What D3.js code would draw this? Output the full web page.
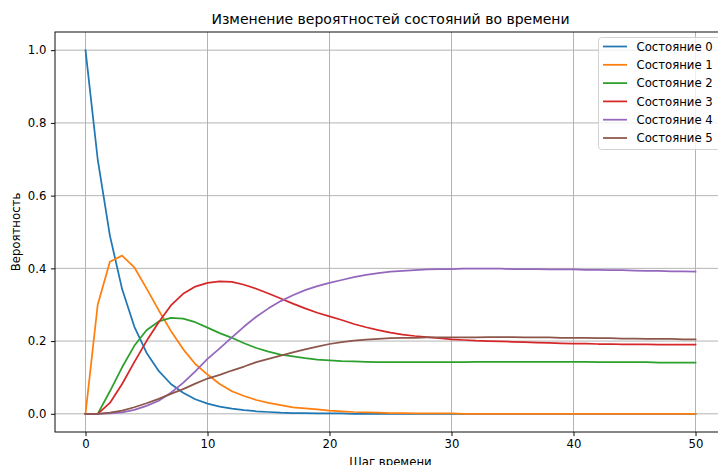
<!DOCTYPE html>
<html>
<head>
    <meta charset="utf-8">
    <title>Изменение вероятностей состояний во времени</title>
    <style>
        body {
            margin: 0;
            background: #fff;
        }

        svg {
            display: block;
            font-family: "DejaVu Sans", sans-serif;
        }

        .axis text {
            font-size: 11.7px;
            fill: #000;
        }

        .axis line {
            stroke: #000;
            stroke-width: 0.95;
        }

        .grid line {
            stroke: #b0b0b0;
            stroke-width: 0.95;
        }
    </style>
    <script src="https://d3js.org/d3.v7.min.js"></script>
</head>
<body>

<script>
  // time steps 0..50, probabilities
  var steps = d3.range(0, 51);
  var stateNames = ["Состояние 0", "Состояние 1", "Состояние 2", "Состояние 3", "Состояние 4", "Состояние 5"];
  var colors = ["#1f77b4", "#ff7f0e", "#2ca02c", "#d62728", "#9467bd", "#8c564b"];
  var xTicks = [0, 10, 20, 30, 40, 50];
  var yTicks = [0, 0.2, 0.4, 0.6, 0.8, 1.0];

  var state0 = [1.0, 0.70, 0.49, 0.343, 0.24, 0.168, 0.118, 0.082, 0.058, 0.040,
    0.028, 0.020, 0.014, 0.010, 0.007, 0.005, 0.003, 0.002, 0.002, 0.001,
    0.001, 0.001, 0, 0, 0, 0, 0, 0, 0, 0,
    0, 0, 0, 0, 0, 0, 0, 0, 0, 0,
    0, 0, 0, 0, 0, 0, 0, 0, 0, 0, 0];
  var state1 = [0, 0.30, 0.418, 0.435, 0.403, 0.345, 0.285, 0.228, 0.178, 0.137,
    0.108, 0.082, 0.062, 0.049, 0.038, 0.030, 0.024, 0.018, 0.015, 0.012,
    0.009, 0.007, 0.005, 0.004, 0.003, 0.002, 0.002, 0.001, 0.001, 0.001,
    0.001, 0, 0, 0, 0, 0, 0, 0, 0, 0,
    0, 0, 0, 0, 0, 0, 0, 0, 0, 0, 0];
  var state2 = [0, 0, 0.062, 0.128, 0.187, 0.23, 0.254, 0.264, 0.262, 0.252,
    0.237, 0.222, 0.209, 0.194, 0.181, 0.171, 0.163, 0.158, 0.153, 0.149,
    0.147, 0.145, 0.144, 0.143, 0.142, 0.142, 0.142, 0.142, 0.142, 0.142,
    0.142, 0.142, 0.143, 0.143, 0.143, 0.143, 0.143, 0.143, 0.143, 0.143,
    0.143, 0.143, 0.142, 0.142, 0.142, 0.142, 0.142, 0.141, 0.141, 0.141, 0.141];
  var state3 = [0, 0, 0.03, 0.082, 0.142, 0.2, 0.252, 0.298, 0.33, 0.35,
    0.36, 0.364, 0.363, 0.355, 0.344, 0.331, 0.317, 0.303, 0.29, 0.278,
    0.268, 0.258, 0.247, 0.238, 0.23, 0.223, 0.218, 0.214, 0.211, 0.208,
    0.205, 0.203, 0.201, 0.2, 0.199, 0.198, 0.197, 0.196, 0.195, 0.194,
    0.193, 0.193, 0.192, 0.192, 0.191, 0.191, 0.191, 0.19, 0.19, 0.19, 0.19];
  var state4 = [0, 0, 0.001, 0.004, 0.011, 0.022, 0.036, 0.058, 0.085, 0.117,
    0.151, 0.18, 0.21, 0.24, 0.267, 0.29, 0.31, 0.326, 0.34, 0.351,
    0.36, 0.368, 0.376, 0.382, 0.387, 0.391, 0.393, 0.395, 0.397, 0.398,
    0.398, 0.399, 0.399, 0.399, 0.399, 0.398, 0.398, 0.398, 0.397, 0.397,
    0.397, 0.396, 0.396, 0.395, 0.395, 0.394, 0.393, 0.393, 0.392, 0.392, 0.391];
  var state5 = [0, 0, 0.003, 0.009, 0.018, 0.029, 0.041, 0.055, 0.068, 0.083,
    0.097, 0.107, 0.119, 0.13, 0.142, 0.151, 0.16, 0.169, 0.177, 0.185,
    0.192, 0.197, 0.201, 0.204, 0.206, 0.208, 0.209, 0.209, 0.21, 0.21,
    0.21, 0.21, 0.21, 0.211, 0.211, 0.211, 0.21, 0.21, 0.21, 0.209,
    0.209, 0.209, 0.208, 0.208, 0.207, 0.207, 0.206, 0.206, 0.206, 0.205, 0.205];

  var series = [state0, state1, state2, state3, state4, state5];

  var W = 718, H = 465;
  // plot box; right edge sits just outside the picture
  var box = {left: 55, right: 726, top: 32, bottom: 432};

  var svg = d3.select("body")
              .append("svg")
              .attr("width", W)
              .attr("height", H);

  svg.append("rect")
     .attr("width", W)
     .attr("height", H)
     .attr("fill", "#fff");

  var x = d3.scaleLinear()
            .domain([-2.5, 52.5])
            .range([box.left, box.right]);

  var y = d3.scaleLinear()
            .domain([-0.05, 1.05])
            .range([box.bottom, box.top]);

  svg.append("clipPath")
     .attr("id", "plotclip")
     .append("rect")
     .attr("x", box.left)
     .attr("y", box.top)
     .attr("width", box.right - box.left)
     .attr("height", box.bottom - box.top);

  // grid
  var grid = svg.append("g").attr("class", "grid");
  grid.selectAll(".gx")
      .data(xTicks)
      .enter()
      .append("line")
      .attr("x1", function (d) { return x(d); })
      .attr("x2", function (d) { return x(d); })
      .attr("y1", box.top)
      .attr("y2", box.bottom);
  grid.selectAll(".gy")
      .data(yTicks)
      .enter()
      .append("line")
      .attr("x1", box.left)
      .attr("x2", box.right)
      .attr("y1", function (d) { return y(d); })
      .attr("y2", function (d) { return y(d); });

  // lines
  var line = d3.line()
               .x(function (d, i) { return x(steps[i]); })
               .y(function (d) { return y(d); });

  svg.append("g")
     .attr("clip-path", "url(#plotclip)")
     .selectAll("path")
     .data(series)
     .enter()
     .append("path")
     .attr("d", line)
     .attr("fill", "none")
     .attr("stroke", function (d, i) { return colors[i]; })
     .attr("stroke-width", 1.75)
     .attr("stroke-linejoin", "round")
     .attr("stroke-linecap", "square");

  // spines
  svg.append("rect")
     .attr("x", box.left)
     .attr("y", box.top)
     .attr("width", box.right - box.left)
     .attr("height", box.bottom - box.top)
     .attr("fill", "none")
     .attr("stroke", "#000")
     .attr("stroke-width", 0.95);

  // axes
  var gx = svg.append("g")
              .attr("class", "axis")
              .attr("transform", "translate(0," + box.bottom + ")")
              .call(d3.axisBottom(x)
                      .tickValues(xTicks)
                      .tickFormat(d3.format("d"))
                      .tickSize(4.1)
                      .tickPadding(3.8));
  gx.select(".domain").remove();
  gx.selectAll("text").attr("font-family", null);

  var gy = svg.append("g")
              .attr("class", "axis")
              .attr("transform", "translate(" + box.left + ",0)")
              .call(d3.axisLeft(y)
                      .tickValues(yTicks)
                      .tickFormat(d3.format(".1f"))
                      .tickSize(4.1)
                      .tickPadding(4.5));
  gy.select(".domain").remove();

  svg.selectAll(".axis").attr("font-family", null).attr("font-size", null);

  // title and labels
  svg.append("text")
     .attr("x", (box.left + box.right) / 2)
     .attr("y", 24)
     .attr("text-anchor", "middle")
     .attr("font-size", "14px")
     .text("Изменение вероятностей состояний во времени");

  svg.append("text")
     .attr("x", (box.left + box.right) / 2)
     .attr("y", 466)
     .attr("text-anchor", "middle")
     .attr("font-size", "11.7px")
     .text("Шаг времени");

  svg.append("text")
     .attr("transform", "translate(20," + ((box.top + box.bottom) / 2) + ") rotate(-90)")
     .attr("text-anchor", "middle")
     .attr("font-size", "11.7px")
     .text("Вероятность");

  // legend
  var lg = svg.append("g")
              .attr("transform", "translate(598,37)");
  lg.append("rect")
    .attr("x", 0.5)
    .attr("y", 0.5)
    .attr("width", 122)
    .attr("height", 112)
    .attr("rx", 3)
    .attr("fill", "#fff")
    .attr("fill-opacity", 0.8)
    .attr("stroke", "#d0d0d0")
    .attr("stroke-width", 0.95);

  var item = lg.selectAll(".item")
               .data(stateNames)
               .enter()
               .append("g")
               .attr("class", "item")
               .attr("transform", function (d, i) {
                 return "translate(0," + (9.5 + i * 18.3) + ")";
               });
  item.append("line")
      .attr("x1", 5)
      .attr("x2", 29)
      .attr("stroke", function (d, i) { return colors[i]; })
      .attr("stroke-width", 1.75);
  item.append("text")
      .attr("x", 38.5)
      .attr("dy", "0.36em")
      .attr("font-size", "11.7px")
      .text(function (d) { return d; });
</script>
</body>
</html>
